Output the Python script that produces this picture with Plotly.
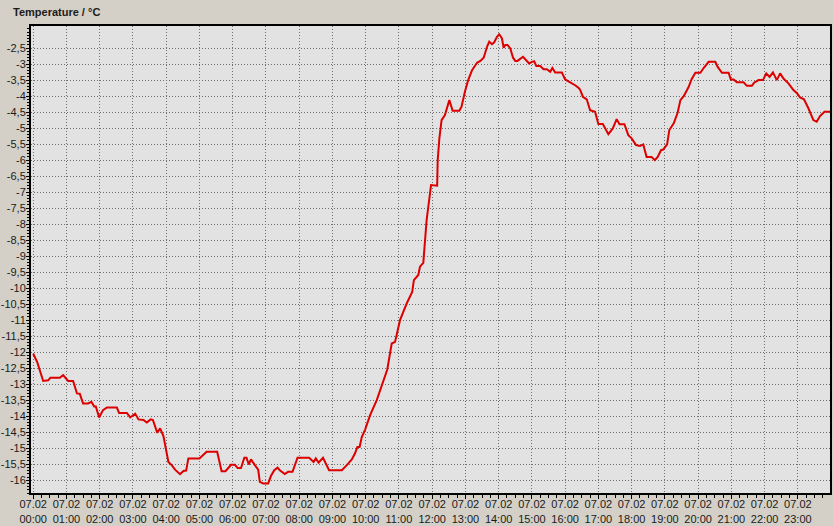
import plotly.graph_objects as go
import pandas as pd

# minutes after 07.02 00:00
minutes = [0, 7, 18, 27, 31, 48, 54, 63, 72, 79, 84, 90, 99, 105, 110, 113, 119, 126, 133, 151,
           155, 169, 175, 184, 190, 199, 205, 212, 216, 224, 229, 235, 244, 250, 256, 265, 271, 276,
           280, 300, 313, 332, 340, 347, 357, 364, 369, 375, 381, 385, 389, 393, 400, 406, 409, 415,
           424, 429, 435, 441, 445, 454, 460, 468, 477, 498, 506, 510, 515, 523, 534, 557, 566, 575,
           581, 585, 589, 593, 599, 605, 608, 620, 632, 639, 647, 653, 662, 674, 684, 687, 695, 698,
           704, 710, 718, 721, 729, 730, 733, 737, 743, 751, 757, 769, 773, 779, 785, 792, 801, 807,
           813, 819, 823, 828, 832, 837, 841, 846, 849, 852, 856, 861, 866, 870, 874, 884, 890, 895,
           900, 904, 908, 915, 921, 927, 933, 937, 942, 954, 960, 968, 978, 984, 987, 992, 999, 1005,
           1014, 1020, 1028, 1038, 1046, 1053, 1058, 1067, 1074, 1080, 1088, 1095, 1101, 1107, 1116,
           1122, 1127, 1133, 1137, 1144, 1148, 1156, 1163, 1168, 1174, 1183, 1188, 1195, 1204, 1211,
           1219, 1231, 1235, 1243, 1255, 1259, 1264, 1270, 1282, 1288, 1297, 1301, 1309, 1317, 1323,
           1329, 1335, 1342, 1348, 1354, 1363, 1372, 1378, 1384, 1391, 1399, 1408, 1414, 1420, 1428,
           1438]
temperature = [-12.05, -12.3, -12.9, -12.88, -12.8, -12.8, -12.72, -12.9, -12.9, -13.29, -13.3, -13.6,
               -13.6, -13.55, -13.7, -13.7, -14.04, -13.81, -13.73, -13.73, -13.9, -13.9, -14.04, -13.92,
               -14.1, -14.12, -14.2, -14.1, -14.12, -14.52, -14.38, -14.62, -15.43, -15.53, -15.67, -15.81,
               -15.71, -15.7, -15.32, -15.32, -15.11, -15.11, -15.72, -15.72, -15.52, -15.52, -15.62,
               -15.62, -15.3, -15.3, -15.51, -15.35, -15.53, -15.67, -16.05, -16.1, -16.1, -15.87, -15.69,
               -15.61, -15.69, -15.81, -15.74, -15.74, -15.3, -15.3, -15.43, -15.32, -15.45, -15.3, -15.69,
               -15.69, -15.53, -15.35, -15.15, -14.96, -14.96, -14.65, -14.42, -14.125, -13.97, -13.5,
               -12.875, -12.54, -11.73, -11.68, -11.0, -10.48, -10.12, -9.75, -9.59, -9.33, -9.21, -7.875,
               -6.78, -6.78, -6.8, -6.0, -5.32, -4.75, -4.59, -4.125, -4.46, -4.46, -4.33, -3.87, -3.5,
               -3.19, -2.96, -2.9, -2.8, -2.46, -2.3, -2.38, -2.32, -2.15, -2.07, -2.2, -2.49, -2.4, -2.4,
               -2.51, -2.8, -2.9, -2.9, -2.77, -2.9, -2.98, -2.93, -2.91, -3.06, -3.06, -3.16, -3.16, -3.24,
               -3.12, -3.26, -3.26, -3.48, -3.55, -3.66, -3.74, -3.8, -4.02, -4.1, -4.44, -4.49, -4.875,
               -4.875, -5.19, -5.01, -4.72, -4.88, -4.88, -5.22, -5.32, -5.53, -5.56, -5.51, -5.9, -5.9,
               -6.0, -5.9, -5.69, -5.67, -5.51, -5.06, -4.85, -4.52, -4.125, -4.0, -3.71, -3.48, -3.27,
               -3.27, -3.1, -2.93, -2.93, -3.08, -3.27, -3.27, -3.48, -3.48, -3.57, -3.57, -3.68, -3.68,
               -3.58, -3.5, -3.5, -3.29, -3.4, -3.26, -3.5, -3.29, -3.45, -3.6, -3.81, -3.9, -4.04, -4.1,
               -4.38, -4.75, -4.8, -4.625, -4.49, -4.49]

y_tick_values = [-2.5, -3, -3.5, -4, -4.5, -5, -5.5, -6, -6.5, -7, -7.5, -8, -8.5, -9, -9.5, -10,
                 -10.5, -11, -11.5, -12, -12.5, -13, -13.5, -14, -14.5, -15, -15.5, -16]
y_tick_labels = ["-2,5", "-3", "-3,5", "-4", "-4,5", "-5", "-5,5", "-6", "-6,5", "-7", "-7,5", "-8",
                 "-8,5", "-9", "-9,5", "-10", "-10,5", "-11", "-11,5", "-12", "-12,5", "-13", "-13,5",
                 "-14", "-14,5", "-15", "-15,5", "-16"]
title_text = "Temperature / °C"

base = pd.Timestamp("2024-02-07 00:00")
times = [base + pd.Timedelta(minutes=m) for m in minutes]

fig = go.Figure()
fig.add_trace(go.Scatter(x=times, y=temperature, mode="lines",
                         line=dict(color="#dc0000", width=2), hoverinfo="x+y"))

yfont = dict(family="Liberation Sans, Arial, sans-serif", size=11, color="#1a1a1a")
xfont = dict(family="Liberation Sans, Arial, sans-serif", size=11, color="#1a1a1a")

fig.update_layout(
    width=833, height=526,
    margin=dict(l=31, r=3, t=26, b=33, autoexpand=False),
    paper_bgcolor="#d4d0c8",
    plot_bgcolor="#e2e2e2",
    showlegend=False,
    font=yfont,
    annotations=[dict(text="<b>" + title_text + "</b>", xref="paper", yref="paper",
                      x=-20 / 799, y=1 + 14 / 467, xanchor="left", yanchor="middle",
                      showarrow=False, font=dict(family="Liberation Sans, Arial, sans-serif",
                                                 size=11, color="#1a1a1a"))],
)

grid_style = dict(showgrid=True, gridcolor="#6e6e6e", griddash="1px,2px", gridwidth=1)

fig.update_xaxes(
    type="date", automargin=False,
    range=[base - pd.Timedelta(minutes=4), base + pd.Timedelta(minutes=1438)],
    tick0=base, dtick=3600000, tickformat="%d.%m<br>%H:%M",
    ticks="outside", ticklen=4, tickcolor="#000000", ticklabelstandoff=-4,
    showline=True, linecolor="#000000", linewidth=2, mirror=True,
    minor=dict(ticks="outside", dtick=900000, tick0=base, ticklen=3, tickcolor="#000000", showgrid=False),
    tickfont=xfont, zeroline=False, **grid_style,
)
fig.update_yaxes(
    automargin=False,
    range=[-16.4, -1.81],
    tickmode="array", tickvals=y_tick_values, ticktext=y_tick_labels,
    ticks="outside", ticklen=3, tickcolor="#000000", ticklabelstandoff=-2,
    showline=True, linecolor="#000000", linewidth=2, mirror=True,
    minor=dict(ticks="outside", tickmode="linear", dtick=0.1, tick0=-16, ticklen=2,
               tickcolor="#000000", showgrid=False),
    tickfont=yfont, zeroline=False, **grid_style,
)

fig.write_html("out.html", config={"displayModeBar": False},
               post_script="document.body.style.margin='0';document.body.style.background='#d4d0c8';")
